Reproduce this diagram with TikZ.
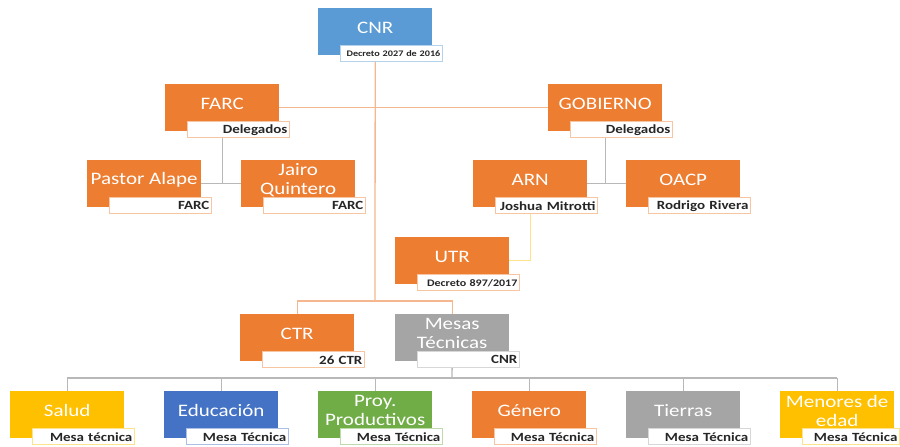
\documentclass[tikz,border=0pt]{standalone}
\usepackage{fontspec}
\setmainfont{Carlito}[FakeStretch=1.2]
\usetikzlibrary{calc,backgrounds}
\definecolor{cOr}{HTML}{ED7D31}
\definecolor{cBl}{HTML}{5B9BD5}
\definecolor{cGr}{HTML}{A5A5A5}
\definecolor{cYe}{HTML}{FFC000}
\definecolor{cDb}{HTML}{4472C4}
\definecolor{cGn}{HTML}{70AD47}
\definecolor{cTx}{HTML}{262626}
\tikzset{
  orgbox/.style={minimum width=114pt, minimum height=47pt, inner sep=0pt, anchor=north west, fill=#1, draw=none},
  orgtext/.style={text=white, font=\fontsize{17.5}{19}\selectfont, align=center, inner sep=0pt},
  orglab/.style={draw=#1!45, fill=white, line width=0.8pt, minimum width=102pt, minimum height=16pt,
    text width=98pt, align=right, inner xsep=2pt, inner ysep=0pt, text=cTx, anchor=north west},
  oline/.style={draw=cOr!55, line width=1.3pt},
  gline/.style={draw=black!28, line width=1.3pt},
  yline/.style={draw=cYe!45, line width=1.3pt},
}
\newcommand\OrgUnit[8][]{%
  \node[orgbox=#5] (#2) at (#3,#4) {};
  \node[orgtext] (#2-t) at ($(#2.center)+(0,-4)$) {#6};
  \node[orglab=#5, font=\fontsize{#8}{#8}\selectfont\bfseries, #1] (#2-l) at ($(#2.south west)+(22,-10)$) {\mbox{#7}};
}
\begin{document}
\begin{tikzpicture}[x=1pt,y=-1pt]
\useasboundingbox (0,0) rectangle (900,447);
\OrgUnit{cnr}{318}{8}{cBl}{CNR}{Decreto 2027 de 2016}{8.5}
\OrgUnit{farc}{165}{84}{cOr}{FARC}{Delegados}{12.5}
\OrgUnit{gob}{548}{84}{cOr}{GOBIERNO}{Delegados}{12.5}
\OrgUnit{pastor}{87}{160}{cOr}{Pastor Alape}{FARC}{12.5}
\OrgUnit{jairo}{241}{160}{cOr}{Jairo\\Quintero}{FARC}{12.5}
\OrgUnit{arn}{473}{160}{cOr}{ARN}{Joshua Mitrotti}{12.5}
\OrgUnit{oacp}{626}{160}{cOr}{OACP}{Rodrigo Rivera}{12.5}
\OrgUnit{utr}{395}{237}{cOr}{UTR}{Decreto 897/2017}{10}
\OrgUnit{ctr}{240}{314}{cOr}{CTR}{26 CTR}{12.5}
\OrgUnit{mesas}{395}{314}{cGr}{Mesas\\Técnicas}{CNR}{12.5}
\OrgUnit{salud}{10}{391}{cYe}{Salud}{Mesa técnica}{12.5}
\OrgUnit{edu}{164}{391}{cDb}{Educación}{Mesa Técnica}{12.5}
\OrgUnit{proy}{318}{391}{cGn}{Proy.\\Productivos}{Mesa Técnica}{12.5}
\OrgUnit{gen}{472}{391}{cOr}{Género}{Mesa Técnica}{12.5}
\OrgUnit{tierras}{626}{391}{cGr}{Tierras}{Mesa Técnica}{12.5}
\OrgUnit[minimum width=97pt, text width=93pt]{menores}{780}{391}{cYe}{Menores de\\edad}{Mesa Técnica}{12.5}
\coordinate (split) at (375,301);
\coordinate (bus) at (452,378);
\begin{scope}[on background layer]
  \draw[oline] (cnr.south) -- (split);
  \draw[oline] (farc.east) -- (gob.west);
  \draw[oline] (ctr.north) -- (ctr.north |- split) -- (mesas.north |- split) -- (mesas.north);
  \draw[gline] (farc.south) -- (farc.south |- pastor.east);
  \draw[gline] (pastor.east) -- (jairo.west);
  \draw[gline] (gob.south) -- (gob.south |- arn.east);
  \draw[gline] (arn.east) -- (oacp.west);
  \draw[yline] (arn.south) -- (arn.south |- utr.east) -- (utr.east);
  \draw[gline] (mesas.south) -- (bus);
  \draw[gline] (salud.north |- bus) -- (menores.north |- bus);
  \foreach \n in {salud,edu,proy,gen,tierras,menores}
    \draw[gline] (\n.north |- bus) -- (\n.north);
\end{scope}
\end{tikzpicture}
\end{document}
